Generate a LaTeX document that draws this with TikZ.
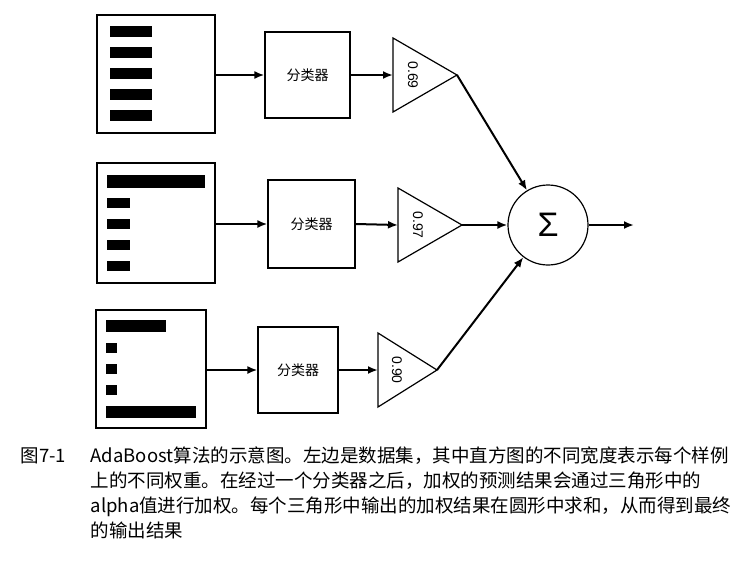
\documentclass[tikz,border=0pt]{standalone}
\usepackage{fontspec}
\usetikzlibrary{arrows.meta}
\newfontfamily\cjk{Noto Sans CJK SC}
\setsansfont{Liberation Sans}
\begin{document}
\begin{tikzpicture}[x=1pt,y=-1pt,line width=1.3pt,
  box/.style={draw,line width=1.3pt},
  arr/.style={-{Latex[length=10pt,width=8pt]},line width=2pt},
  cls/.style={draw,line width=1.2pt,minimum width=85pt,minimum height=86pt,font=\cjk\fontsize{14}{16}\selectfont},
  lbl/.style={font=\sffamily\fontsize{14}{16}\selectfont,rotate=-90},
  captext/.style={anchor=base west,inner sep=0,font=\cjk\fontsize{18.5}{20}\selectfont}]
\useasboundingbox (0,0) rectangle (735,562);
% row 1
\node[box,minimum width=118pt,minimum height=118pt,inner sep=0] (d1) at (156,74) {};
\foreach \y in {26,47,68,89,110} \fill (110,\y) rectangle (152,\y+11);
\node[cls] (c1) at (307.5,75) {分类器};
\draw[line width=1.2pt] (393,38) -- (457,75) -- (393,112) -- cycle;
\coordinate (t1) at (457,75); \coordinate (t1in) at (393,75);
\node[lbl] (w1) at (413,75) {0.69};
% row 2
\node[box,minimum width=118pt,minimum height=120pt,inner sep=0] (d2) at (156,223) {};
\fill (107,175) rectangle (205,188);
\foreach \y in {198,219,240,261} \fill (107,\y) rectangle (130,\y+10);
\node[cls,minimum width=87pt,minimum height=88pt] (c2) at (311.5,224) {分类器};
\draw[line width=1.2pt] (398,188) -- (462,225) -- (398,262) -- cycle;
\coordinate (t2) at (462,225); \coordinate (t2in) at (398,225);
\node[lbl] (w2) at (418,225) {0.97};
% row 3
\node[box,minimum width=110pt,minimum height=118pt,inner sep=0] (d3) at (151,369) {};
\fill (106,320) rectangle (166,332);
\foreach \y in {343,364,385} \fill (106,\y) rectangle (117,\y+10);
\fill (106,406) rectangle (196,418);
\node[cls,minimum width=80pt,minimum height=86pt] (c3) at (298,370) {分类器};
\draw[line width=1.2pt] (378,333) -- (437,370) -- (378,407) -- cycle;
\coordinate (t3) at (437,370); \coordinate (t3in) at (378,370);
\node[lbl] (w3) at (397,370) {0.90};
% sum
\node[draw,circle,line width=1.2pt,minimum size=80pt,inner sep=0,font=\sffamily\fontsize{34}{34}\selectfont] (s) at (548,225) {Σ};
\coordinate (out) at (634,225);
% arrows
\draw[arr] (d1.east |- c1) -- (c1.west);
\draw[arr] (c1.east) -- (t1in);
\draw[arr] (d2.east |- c2) -- (c2.west);
\draw[arr] (c2.east) -- (t2in);
\draw[arr] (d3.east |- c3) -- (c3.west);
\draw[arr] (c3.east) -- (t3in);
\draw[arr] (t1) -- (s);
\draw[arr] (t2) -- (s);
\draw[arr] (t3) -- (s);
\draw[arr] (s) -- (out);
% caption
\node[captext] (cp0) at (20,462) {图7-1};
\node[captext] (cp1) at (90,462) {AdaBoost算法的示意图。左边是数据集，其中直方图的不同宽度表示每个样例};
\node[captext] (cp2) at (90,487) {上的不同权重。在经过一个分类器之后，加权的预测结果会通过三角形中的};
\node[captext] (cp3) at (90,512) {alpha值进行加权。每个三角形中输出的加权结果在圆形中求和，从而得到最终};
\node[captext] (cp4) at (90,537) {的输出结果};
\end{tikzpicture}
\end{document}
